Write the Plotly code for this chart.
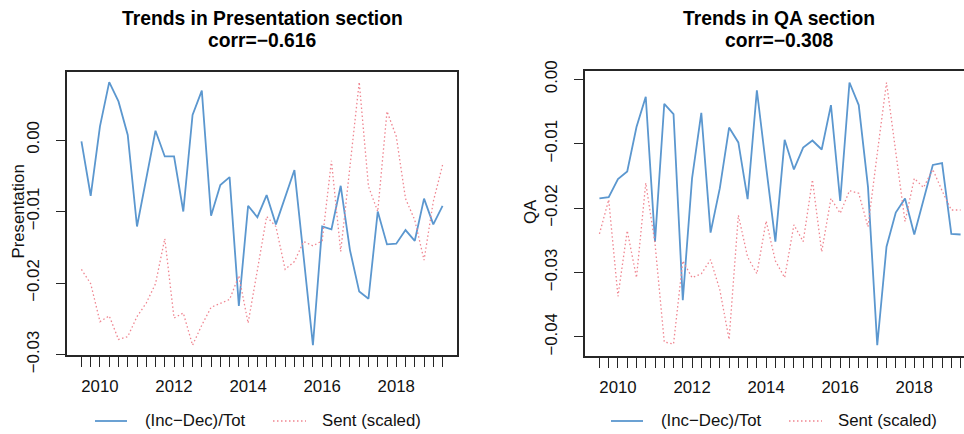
import plotly.graph_objects as go

# Quarterly observation dates (decimal years)
quarter = [2009.50, 2009.75, 2010.00, 2010.25, 2010.50, 2010.75, 2011.00, 2011.25,
           2011.50, 2011.75, 2012.00, 2012.25, 2012.50, 2012.75, 2013.00, 2013.25,
           2013.50, 2013.75, 2014.00, 2014.25, 2014.50, 2014.75, 2015.00, 2015.25,
           2015.50, 2015.75, 2016.00, 2016.25, 2016.50, 2016.75, 2017.00, 2017.25,
           2017.50, 2017.75, 2018.00, 2018.25, 2018.50, 2018.75, 2019.00, 2019.25]

# Presentation section
pres_ratio = [-0.0002, -0.0078, 0.0019, 0.0081, 0.0054, 0.0007, -0.0121, -0.0054,
              0.0013, -0.0023, -0.0023, -0.0100, 0.0035, 0.0069, -0.0106, -0.0063,
              -0.0052, -0.0232, -0.0092, -0.0108, -0.0077, -0.0118, -0.0079, -0.0042,
              -0.0164, -0.0287, -0.0121, -0.0125, -0.0064, -0.0154, -0.0212, -0.0222,
              -0.0100, -0.0146, -0.0145, -0.0126, -0.0141, -0.0082, -0.0118, -0.0092]
pres_sent = [-0.0181, -0.0201, -0.0254, -0.0246, -0.0279, -0.0275, -0.0247, -0.0228,
             -0.0201, -0.0138, -0.0249, -0.0242, -0.0287, -0.0259, -0.0234, -0.0228,
             -0.0223, -0.0190, -0.0256, -0.0182, -0.0107, -0.0121, -0.0181, -0.0170,
             -0.0142, -0.0148, -0.0141, -0.0029, -0.0156, -0.0037, 0.0081, -0.0065,
             -0.0100, 0.0040, 0.0005, -0.0082, -0.0112, -0.0168, -0.0086, -0.0035]

# QA section
qa_ratio = [-0.0185, -0.0183, -0.0155, -0.0143, -0.0074, -0.0027, -0.0252, -0.0038,
            -0.0054, -0.0343, -0.0154, -0.0052, -0.0238, -0.0169, -0.0075, -0.0098,
            -0.0186, -0.0017, -0.0136, -0.0252, -0.0094, -0.0140, -0.0106, -0.0095,
            -0.0109, -0.0040, -0.0189, -0.0005, -0.0040, -0.0167, -0.0413, -0.0260,
            -0.0207, -0.0185, -0.0241, -0.0187, -0.0133, -0.0130, -0.0240, -0.0241]
qa_sent = [-0.0240, -0.0187, -0.0337, -0.0235, -0.0308, -0.0161, -0.0255, -0.0408,
           -0.0411, -0.0282, -0.0308, -0.0302, -0.0280, -0.0327, -0.0404, -0.0211,
           -0.0276, -0.0302, -0.0220, -0.0282, -0.0308, -0.0226, -0.0252, -0.0156,
           -0.0268, -0.0185, -0.0208, -0.0173, -0.0177, -0.0229, -0.0115, -0.0005,
           -0.0113, -0.0221, -0.0154, -0.0168, -0.0140, -0.0173, -0.0203, -0.0203]

panel_titles = ["Trends in Presentation section", "Trends in QA section"]
corr_labels = ["corr=\u22120.616", "corr=\u22120.308"]
y_titles = ["Presentation", "QA"]
legend_labels = ["(Inc\u2212Dec)/Tot", "Sent (scaled)"]
year_labels = [2010, 2012, 2014, 2016, 2018]
pres_ticks = [0.00, -0.01, -0.02, -0.03]
qa_ticks = [0.00, -0.01, -0.02, -0.03, -0.04]

W, H = 964, 434
FONT = "Liberation Sans, Arial, sans-serif"
BLUE = "#5b97cf"
RED = "#ef8590"
FRAME = "#262626"


def fmt(v):
    s = f"{abs(v):.2f}"
    return ("\u2212" + s) if v < 0 else s


def px_y(y):
    return 1 - y / H


fig = go.Figure()

panels = [
    dict(ratio=pres_ratio, sent=pres_sent, xa="x", ya="y"),
    dict(ratio=qa_ratio, sent=qa_sent, xa="x2", ya="y2"),
]
for p in panels:
    fig.add_trace(go.Scatter(x=quarter, y=p["ratio"], mode="lines", xaxis=p["xa"], yaxis=p["ya"],
                             line=dict(color=BLUE, width=1.8), showlegend=False))
    fig.add_trace(go.Scatter(x=quarter, y=p["sent"], mode="lines", xaxis=p["xa"], yaxis=p["ya"],
                             line=dict(color=RED, width=1.3, dash="1.5px,2.5px"), showlegend=False))

tick_text = [str(int(q)) if (q == int(q) and int(q) in year_labels) else "" for q in quarter]
xcommon = dict(tickmode="array", tickvals=quarter, ticktext=tick_text, ticks="outside",
               ticklen=10, tickwidth=1.1, tickcolor=FRAME, showgrid=False, zeroline=False,
               showline=True, mirror=True, linecolor=FRAME, linewidth=1.8, automargin=False,
               tickfont=dict(family=FONT, size=16.8, color="#111"), ticklabelstandoff=5)
ycommon = dict(ticks="outside", ticklen=9, tickwidth=1.1, tickcolor=FRAME, showgrid=False,
               zeroline=False, showline=True, linecolor=FRAME, linewidth=1.8, tickangle=-90,
               tickmode="array", tickfont=dict(family=FONT, size=16.8, color="#111"),
               ticklabelstandoff=10, automargin=False)

fig.update_layout(
    width=W, height=H, margin=dict(l=0, r=0, t=0, b=0, autoexpand=False),
    paper_bgcolor="white", plot_bgcolor="white", showlegend=False,
    xaxis=dict(domain=[67 / W, 457 / W], range=[2009.11, 2019.64], anchor="y", **xcommon),
    yaxis=dict(domain=[px_y(355), px_y(72)], range=[-0.03007, 0.00951], anchor="x",
               tickvals=pres_ticks, ticktext=[fmt(v) for v in pres_ticks], mirror=True, **ycommon),
    xaxis2=dict(domain=[585 / W, 1.0], range=[2009.11, 2019.342], anchor="y2", **xcommon),
    yaxis2=dict(domain=[px_y(356), px_y(71)], range=[-0.04297, 0.00129], anchor="x2",
                tickvals=qa_ticks, ticktext=[fmt(v) for v in qa_ticks], mirror=False, **ycommon),
)

annotations = []
shapes = []
centers = [262, 779]
ytitle_x = [17.5, 530]
for k in range(2):
    cx = centers[k]
    annotations.append(dict(text=f"<b>{panel_titles[k]}</b>", x=cx / W, y=px_y(18), xref="paper",
                            yref="paper", showarrow=False, xanchor="center", yanchor="middle",
                            font=dict(family=FONT, size=19.3, color="#000")))
    annotations.append(dict(text=f"<b>{corr_labels[k]}</b>", x=cx / W, y=px_y(41), xref="paper",
                            yref="paper", showarrow=False, xanchor="center", yanchor="middle",
                            font=dict(family=FONT, size=19.3, color="#000")))
    annotations.append(dict(text=y_titles[k], x=ytitle_x[k] / W, y=px_y(212), xref="paper",
                            yref="paper", showarrow=False, xanchor="center", yanchor="middle",
                            textangle=-90, font=dict(family=FONT, size=16.8, color="#111")))
    # legend beneath each panel
    off = 0 if k == 0 else 516
    ly = px_y(421)
    shapes.append(dict(type="line", xref="paper", yref="paper", x0=(95 + off) / W, x1=(127 + off) / W,
                       y0=ly, y1=ly, line=dict(color=BLUE, width=1.8)))
    annotations.append(dict(text=legend_labels[0], x=(143 + off) / W, y=px_y(420), xref="paper",
                            yref="paper", showarrow=False, xanchor="left", yanchor="middle",
                            font=dict(family=FONT, size=16.8, color="#111")))
    shapes.append(dict(type="line", xref="paper", yref="paper", x0=(273 + off) / W, x1=(306 + off) / W,
                       y0=ly, y1=ly, line=dict(color=RED, width=1.3, dash="1.5px,2.5px")))
    annotations.append(dict(text=legend_labels[1], x=(320 + off) / W, y=px_y(420), xref="paper",
                            yref="paper", showarrow=False, xanchor="left", yanchor="middle",
                            font=dict(family=FONT, size=16.8, color="#111")))

fig.update_layout(annotations=annotations, shapes=shapes)
fig.write_html("out.html")
